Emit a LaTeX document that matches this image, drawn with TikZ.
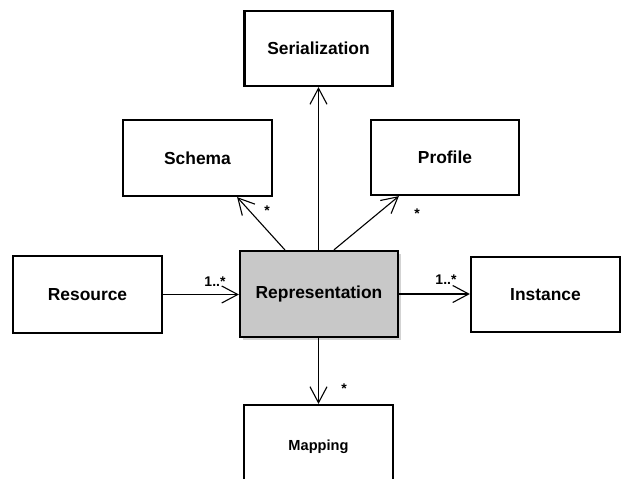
\documentclass[tikz,border=0pt]{standalone}
\usepackage{fontspec}
\setmainfont{Liberation Sans}
\usetikzlibrary{arrows.meta,shadows,calc}
\definecolor{repfill}{RGB}{200,200,200}
\begin{document}
\begin{tikzpicture}[x=1pt,y=-1pt,
  box/.style={draw=black, line width=2.2pt, fill=white, inner sep=0pt,
    font=\fontsize{17.4}{20}\selectfont\bfseries},
  conn/.style={line width=1.1pt, -{Straight Barb[length=16pt,width=17pt,line width=1.1pt]}},
  mult/.style={font=\fontsize{14}{16}\selectfont\bfseries, inner sep=0pt}
]
\useasboundingbox (0,0) rectangle (627,479);
\clip (0,0) rectangle (627,479);
\node[box, minimum width=148pt, minimum height=75pt] (ser) at (318.5,48.5) {Serialization};
\node[box, minimum width=149pt, minimum height=76pt] (schema) at (197.5,158) {Schema};
\node[box, minimum width=148pt, minimum height=75pt] (profile) at (445,157.5) {Profile};
\node[box, fill=repfill, minimum width=158pt, minimum height=86pt,
  drop shadow={shadow xshift=2.5pt, shadow yshift=-2.5pt, opacity=0.35, fill=gray}] (rep) at (319,294) {Representation};
\node[box, minimum width=149pt, minimum height=77pt] (res) at (87.5,294.5) {Resource};
\node[box, minimum width=149pt, minimum height=75pt] (inst) at (545.5,294.5) {Instance};
\node[box, minimum width=149pt, minimum height=84pt, font=\fontsize{14.6}{17}\selectfont\bfseries] (map) at (318.5,447) {Mapping};

\draw[conn] (rep.north -| ser.south) -- (ser.south);
\draw[conn] ($(rep.north west)+(46,0)$) -- ($(schema.south east)+(-36,0)$);
\draw[conn] ($(rep.north west)+(95,0)$) -- ($(profile.south west)+(29,0)$);
\draw[conn] (res.east) -- (res.east -| rep.west);
\draw[conn] (rep.east) -- (rep.east -| inst.west);
\draw[conn] (rep.south -| map.north) -- (map.north);

\node[mult] (m1) at (267,211) {*};
\node[mult] (m2) at (417,214) {*};
\node[mult] (m3) at (215,282) {1..*};
\node[mult] (m4) at (446,280) {1..*};
\node[mult] (m5) at (344,389) {*};
\end{tikzpicture}
\end{document}
